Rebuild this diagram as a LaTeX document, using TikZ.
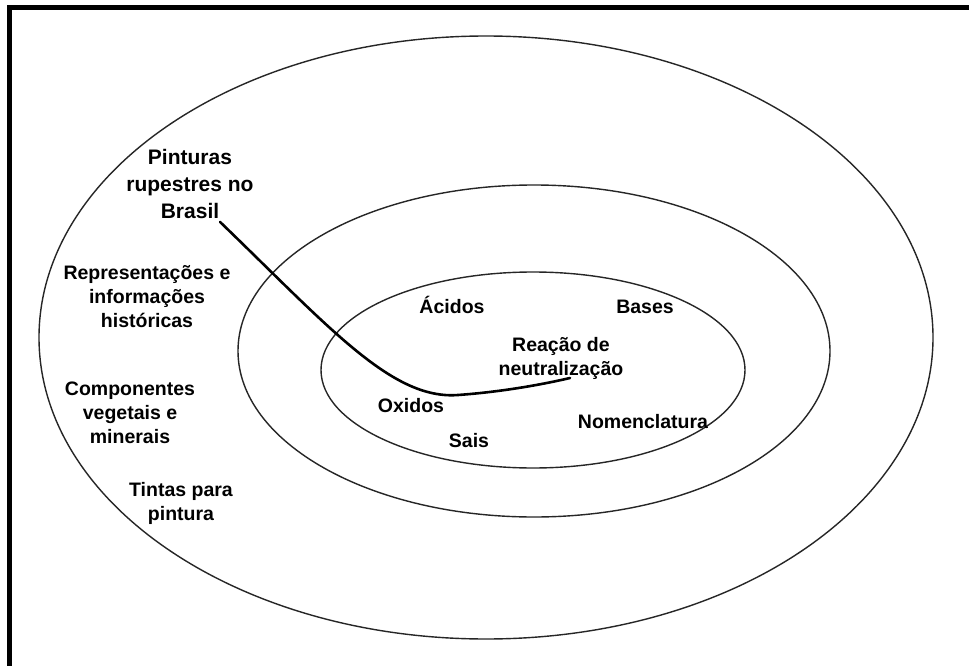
\documentclass[tikz,border=0pt]{standalone}
\usepackage{fontspec}
\setmainfont{Liberation Sans}
\begin{document}
\begin{tikzpicture}[x=1pt,y=-1pt,
  ring/.style={draw=black!85,line width=1.4pt},
  lbl/.style={font=\bfseries\fontsize{19.5}{24}\selectfont,align=center,inner sep=0pt},
  biglbl/.style={font=\bfseries\fontsize{21}{27}\selectfont,align=center,inner sep=0pt},
  link/.style={draw=black,line width=2.6pt,line cap=round}]
\useasboundingbox (0,0) rectangle (969,666);
\fill[white] (0,0) rectangle (969,666);
% heavy frame on the left and top edges
\draw[line width=5pt,line join=miter] (9.5,666) -- (9.5,7.5) -- (969,7.5);
% three nested rings
\draw[ring] (486,337.5) ellipse [x radius=447,y radius=301.5];
\draw[ring] (534,351) ellipse [x radius=296,y radius=166];
\draw[ring] (533,370) ellipse [x radius=212,y radius=98];
% outer ring labels
\node[biglbl] (pint) at (190,184) {Pinturas\\rupestres no\\Brasil};
\node[lbl] (repr) at (147,297) {Representações e\\informações\\históricas};
\node[lbl] (comp) at (130,413) {Componentes\\vegetais e\\minerais};
\node[lbl] (tint) at (181,503) {Tintas para\\pintura};
% inner ring labels
\node[lbl,anchor=base] (acid) at (452,313) {Ácidos};
\node[lbl,anchor=base] (base) at (645,313) {Bases};
\node[lbl] (reac) at (561,358) {Reação de\\neutralização};
\node[lbl,anchor=base] (oxid) at (411,412) {Oxidos};
\node[lbl,anchor=base] (sais) at (469,447) {Sais};
\node[lbl,anchor=base] (nome) at (643,428) {Nomenclatura};
% connector from the outer label into the centre
\coordinate (tip) at (570,378);
\draw[link] ([xshift=30pt,yshift=-3pt]pint.south) .. controls (330,328) and (392,400) .. (458,395)
  .. controls (500,392) and (540,385) .. (tip);
\end{tikzpicture}
\end{document}
